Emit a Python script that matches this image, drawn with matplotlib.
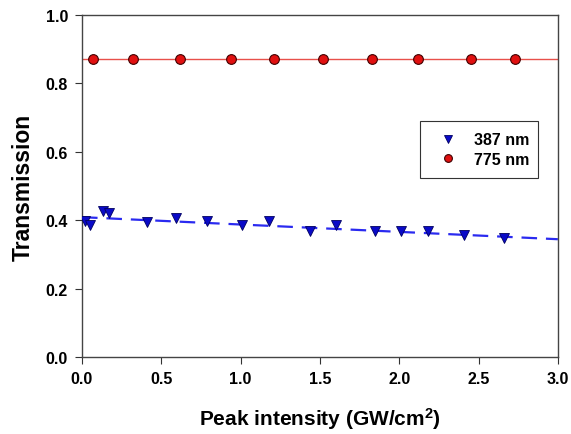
import matplotlib
matplotlib.use('Agg')
import numpy as np
import matplotlib.pyplot as plt

plt.rcParams['font.family'] = ['Liberation Sans', 'DejaVu Sans']
plt.rcParams['font.weight'] = 'bold'
plt.rcParams['mathtext.fontset'] = 'custom'
plt.rcParams['mathtext.bf'] = 'Liberation Sans:bold'
plt.rcParams['mathtext.rm'] = 'Liberation Sans:bold'
plt.rcParams['mathtext.default'] = 'bf'

# 387 nm data
x_387 = [0.02, 0.05, 0.13, 0.17, 0.41, 0.59, 0.79, 1.01, 1.18, 1.44,
         1.60, 1.85, 2.01, 2.18, 2.41, 2.66]
y_387 = [0.398, 0.386, 0.427, 0.421, 0.395, 0.406, 0.398, 0.386, 0.398, 0.368,
         0.386, 0.368, 0.368, 0.368, 0.357, 0.348]
# linear fit of 387 nm (intercept, slope)
fit_387 = (0.409, -0.0215)

# 775 nm data
x_775 = [0.07, 0.32, 0.62, 0.94, 1.21, 1.52, 1.83, 2.12, 2.45, 2.73]
y_775 = [0.871, 0.871, 0.871, 0.871, 0.871, 0.871, 0.871, 0.871, 0.871, 0.871]
level_775 = 0.871

fig = plt.figure(figsize=(5.71, 4.35), dpi=100)
ax = fig.add_axes([0.1436, 0.177, 0.8334, 0.786])

xf = np.array([0.0, 3.0])
ax.plot(xf, [level_775, level_775], color='#e8504a', lw=1.0, zorder=2)
ax.plot(xf, fit_387[0] + fit_387[1] * xf, color='#2a2af0', lw=1.6,
        dashes=(7, 4), zorder=2)

ax.plot(x_387, y_387, 'v', color='#0a0ac8', mec='#000060', mew=0.6,
        ms=7, ls='none', label='387 nm', zorder=3)
ax.plot(x_775, y_775, 'o', color='#e01010', mec='#400000', mew=0.8,
        ms=7, ls='none', label='775 nm', zorder=3)

ax.set_xlim(0, 3.0)
ax.set_ylim(0, 1.0)
ax.set_xticks(np.arange(0, 3.01, 0.5))
ax.set_yticks(np.arange(0, 1.01, 0.2))
ax.xaxis.set_major_formatter(matplotlib.ticker.FormatStrFormatter('%.1f'))
ax.yaxis.set_major_formatter(matplotlib.ticker.FormatStrFormatter('%.1f'))
ax.tick_params(direction='out', length=5, width=0.8, labelsize=11.5,
               top=False, right=False, color='#333333', pad=5)
for s in ax.spines.values():
    s.set_color('#444444')
    s.set_linewidth(1.0)

ax.set_xlabel('Peak intensity (GW/cm$^{2}$)', fontsize=15, fontweight='bold', labelpad=14)
ax.set_ylabel('Transmission', fontsize=16.5, fontweight='bold', labelpad=8)

leg = ax.legend(loc='upper left', bbox_to_anchor=(0.71, 0.523, 0.248, 0.167),
                mode='expand', fancybox=False, framealpha=1, fontsize=11.5,
                handletextpad=0.6, borderpad=0.7, labelspacing=0.3,
                handlelength=2.1, borderaxespad=0, markerscale=0.8)
leg.get_frame().set_edgecolor('#333333')
leg.get_frame().set_linewidth(0.8)

fig.savefig('out.png', dpi=100)
